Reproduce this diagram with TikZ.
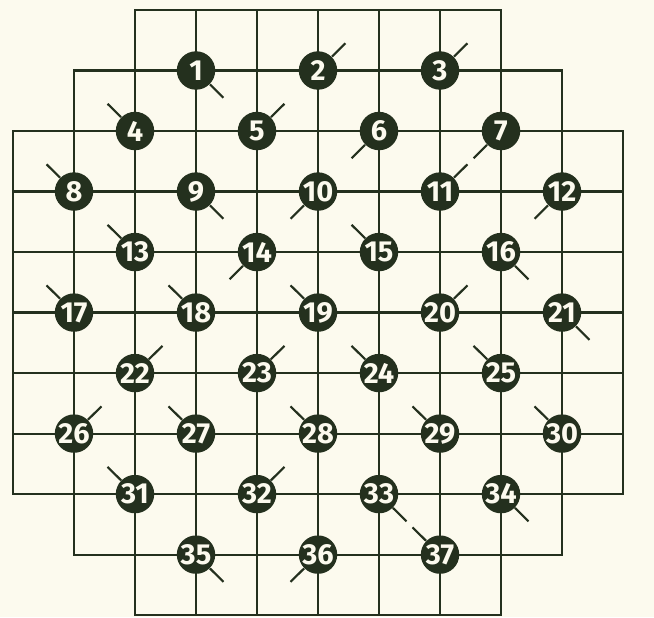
\documentclass[tikz,border=0pt]{standalone}
\usepackage{fontspec}
\setsansfont{Fira Sans}
\usepackage{tikz}
\definecolor{ink}{RGB}{36,48,30}
\definecolor{paper}{RGB}{252,250,238}

\begin{document}
\begin{tikzpicture}[x=1cm,y=-0.992cm,
  gridline/.style={ink,line width=1pt,line cap=rect},
  hole/.style={circle,fill=ink,inner sep=0pt,minimum size=0.63cm,text=paper,font=\sffamily\bfseries\fontsize{13.5}{13.5}\selectfont},
  slant/.style={ink,line width=1pt}]
  \fill[paper] (-0.213,-0.165) rectangle (10.508,10.033);
  % lattice: row r and column r have the same extent
  \foreach \r/\a/\b in {0/2/8,1/1/9,2/0/10,3/0/10,4/0/10,5/0/10,6/0/10,7/0/10,8/0/10,9/1/9,10/2/8}
    {\draw[gridline] (\a,\r)--(\b,\r); \draw[gridline] (\r,\a)--(\r,\b);}
  % numbered holes, each with its slanted mark
  \foreach \n/\c/\r/\sx/\sy in {1/3/1/1/1, 2/5/1/1/-1, 3/7/1/1/-1,
      4/2/2/-1/-1, 5/4/2/1/-1, 6/6/2/-1/1, 7/8/2/-1/1,
      8/1/3/-1/-1, 9/3/3/1/1, 10/5/3/-1/1, 11/7/3/1/-1, 12/9/3/-1/1,
      13/2/4/-1/-1, 14/4/4/-1/1, 15/6/4/-1/-1, 16/8/4/1/1,
      17/1/5/-1/-1, 18/3/5/-1/-1, 19/5/5/-1/-1, 20/7/5/1/-1, 21/9/5/1/1,
      22/2/6/1/-1, 23/4/6/1/-1, 24/6/6/-1/-1, 25/8/6/-1/-1,
      26/1/7/1/-1, 27/3/7/-1/-1, 28/5/7/-1/-1, 29/7/7/-1/-1, 30/9/7/-1/-1,
      31/2/8/-1/-1, 32/4/8/1/-1, 33/6/8/1/1, 34/8/8/1/1,
      35/3/9/1/1, 36/5/9/-1/1, 37/7/9/-1/-1}
    {\node[hole] (pin\n) at (\c,\r) {\n};
     \path (pin\n) ++(0.45*\sx,0.45*\sy) coordinate (tip\n);
     \draw[slant] (pin\n) -- (tip\n);}
\end{tikzpicture}
\end{document}
